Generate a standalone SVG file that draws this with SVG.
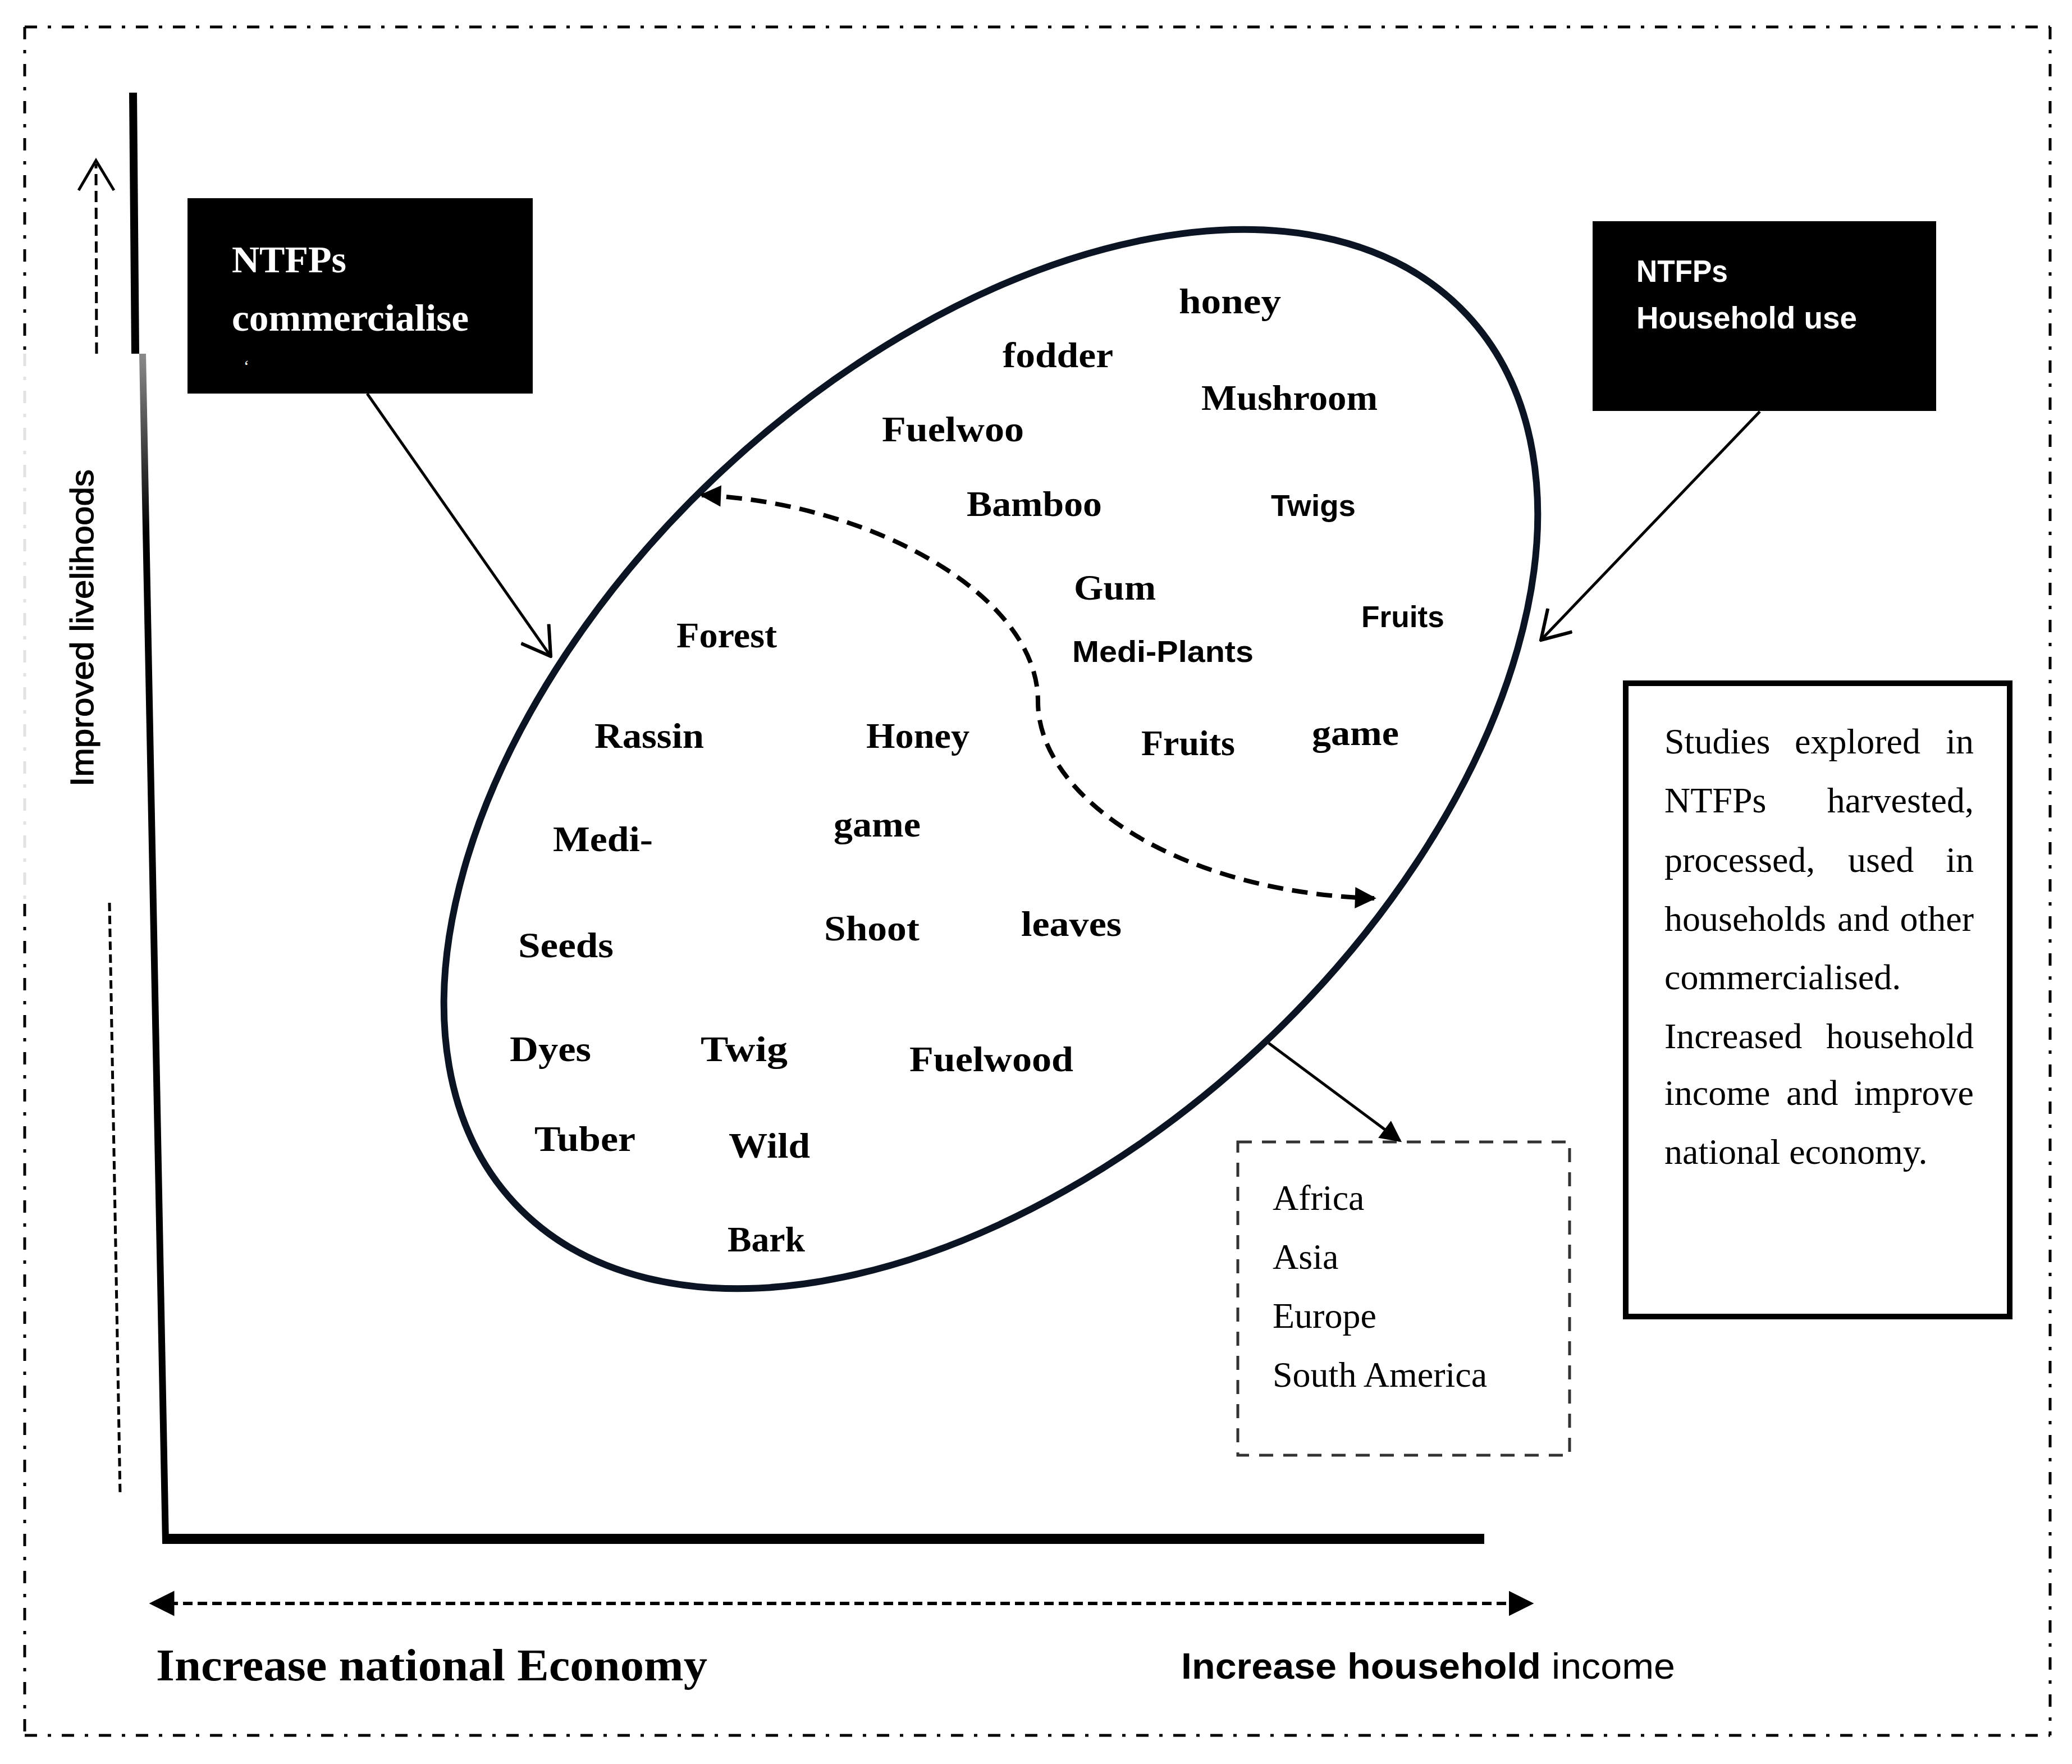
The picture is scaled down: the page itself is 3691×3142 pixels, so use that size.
<svg xmlns="http://www.w3.org/2000/svg" width="3691" height="3142" viewBox="0 0 3691 3142">
<style>
.border{stroke:#000;stroke-width:5;stroke-dasharray:22 19 6 19;fill:none}
.w{font-family:"Liberation Serif","Times New Roman",serif;font-weight:bold;font-size:64px;fill:#000}
.ws{font-family:"Liberation Sans",Arial,sans-serif;font-weight:bold;font-size:54px;fill:#000}
.body{font-family:"Liberation Serif","Times New Roman",serif;font-size:64px;fill:#000}
.boxw{font-family:"Liberation Serif","Times New Roman",serif;font-weight:bold;font-size:68px;fill:#fff}
.boxs{font-family:"Liberation Sans",Arial,sans-serif;font-weight:bold;font-size:55px;fill:#fff}
</style>
<defs>
<marker id="tri" viewBox="0 0 10 10" refX="9" refY="5" markerWidth="44" markerHeight="38" markerUnits="userSpaceOnUse" orient="auto-start-reverse"><path d="M0,0 L10,5 L0,10 z" fill="#000"/></marker>
<marker id="triAxis" viewBox="0 0 10 10" refX="9" refY="5" markerWidth="45" markerHeight="48" markerUnits="userSpaceOnUse" orient="auto-start-reverse"><path d="M0,0 L10,5 L0,10 z" fill="#000"/></marker>
<marker id="open" viewBox="0 0 54 64" refX="51" refY="32" markerWidth="54" markerHeight="64" markerUnits="userSpaceOnUse" orient="auto"><path d="M2,2 L51,32 L2,62" fill="none" stroke="#000" stroke-width="6"/></marker>
<linearGradient id="axisGrad" gradientUnits="userSpaceOnUse" x1="0" y1="630" x2="0" y2="2748">
<stop offset="0" stop-color="#8a8a8a"/><stop offset="0.15" stop-color="#000"/><stop offset="1" stop-color="#000"/>
</linearGradient>
</defs>
<rect width="3691" height="3142" fill="#fff"/>

<g id="frame">
<line class="border" x1="44" y1="48" x2="3652" y2="48"/>
<line class="border" x1="3652" y1="48" x2="3652" y2="3091"/>
<line class="border" x1="44" y1="3091" x2="3652" y2="3091"/>
<line class="border" x1="44" y1="48" x2="44" y2="630"/>
<line class="border" x1="44" y1="630" x2="44" y2="1610" style="stroke:#e2e2e2"/>
<line class="border" x1="44" y1="1610" x2="44" y2="3091"/>
</g>

<g id="axes">
<line x1="237" y1="165" x2="241" y2="630" stroke="#000" stroke-width="14"/>
<line x1="254" y1="630" x2="295" y2="2748" stroke="url(#axisGrad)" stroke-width="12"/>
<line x1="289" y1="2741" x2="2644" y2="2741" stroke="#000" stroke-width="18"/>
<line x1="172" y1="630" x2="171" y2="292" stroke="#000" stroke-width="5" stroke-dasharray="20 10"/>
<path d="M140,339 L171,286 L203,339" fill="none" stroke="#000" stroke-width="5"/>
<line x1="195" y1="1608" x2="214" y2="2662" stroke="#000" stroke-width="5" stroke-dasharray="15 8"/>
<line x1="300" y1="2856" x2="2698" y2="2856" stroke="#000" stroke-width="6" stroke-dasharray="17 9"/>
<line x1="270" y1="2856" x2="2728" y2="2856" stroke="none" stroke-width="6" marker-start="url(#triAxis)" marker-end="url(#triAxis)"/>
<text transform="translate(166,1401) rotate(-90)" font-family="'Liberation Sans',Arial,sans-serif" font-size="58" stroke="#000" stroke-width="1.2" textLength="565" lengthAdjust="spacingAndGlyphs">Improved livelihoods</text>
<text x="278" y="2993" font-family="'Liberation Serif','Times New Roman',serif" font-weight="bold" font-size="80" textLength="982" lengthAdjust="spacingAndGlyphs">Increase national Economy</text>
<text x="2104" y="2990" font-family="'Liberation Sans',Arial,sans-serif" font-size="64" textLength="880" lengthAdjust="spacingAndGlyphs"><tspan font-weight="bold">Increase household</tspan> income</text>
</g>

<g id="node-commercialise">
<rect x="334" y="353" width="615" height="348" fill="#000"/>
<text class="boxw" x="413" y="485">NTFPs</text>
<text class="boxw" x="413" y="589" textLength="422" lengthAdjust="spacingAndGlyphs">commercialise</text>
<text x="434" y="662" font-family="'Liberation Serif',serif" font-size="30" fill="#fff">‘</text>
</g>

<g id="node-household">
<rect x="2837" y="394" width="612" height="338" fill="#000"/>
<text class="boxs" x="2915" y="502" textLength="163" lengthAdjust="spacingAndGlyphs">NTFPs</text>
<text class="boxs" x="2915" y="585" textLength="393" lengthAdjust="spacingAndGlyphs">Household use</text>
</g>

<g id="node-ntfps">
<ellipse cx="1765" cy="1352" rx="1160" ry="702" transform="rotate(-43 1765 1352)" fill="none" stroke="#0b1422" stroke-width="12"/>
<text class="w" x="2100" y="558" textLength="182" lengthAdjust="spacingAndGlyphs">honey</text>
<text class="w" x="1786" y="654" textLength="197" lengthAdjust="spacingAndGlyphs">fodder</text>
<text class="w" x="2140" y="730" textLength="314" lengthAdjust="spacingAndGlyphs">Mushroom</text>
<text class="w" x="1571" y="786" textLength="253" lengthAdjust="spacingAndGlyphs">Fuelwoo</text>
<text class="w" x="1722" y="919" textLength="241" lengthAdjust="spacingAndGlyphs">Bamboo</text>
<text class="ws" x="2264" y="919" textLength="151" lengthAdjust="spacingAndGlyphs">Twigs</text>
<text class="w" x="1913" y="1068" textLength="146" lengthAdjust="spacingAndGlyphs">Gum</text>
<text class="ws" x="1910" y="1179" font-size="56" textLength="323" lengthAdjust="spacingAndGlyphs">Medi-Plants</text>
<text class="ws" x="2425" y="1117" textLength="148" lengthAdjust="spacingAndGlyphs">Fruits</text>
<text class="w" x="2033" y="1345" textLength="167" lengthAdjust="spacingAndGlyphs">Fruits</text>
<text class="w" x="2337" y="1327" textLength="155" lengthAdjust="spacingAndGlyphs">game</text>
<text class="w" x="1205" y="1153" textLength="179" lengthAdjust="spacingAndGlyphs">Forest</text>
<text class="w" x="1059" y="1332" textLength="195" lengthAdjust="spacingAndGlyphs">Rassin</text>
<text class="w" x="1543" y="1332" textLength="184" lengthAdjust="spacingAndGlyphs">Honey</text>
<text class="w" x="985" y="1516" textLength="178" lengthAdjust="spacingAndGlyphs">Medi-</text>
<text class="w" x="1485" y="1490" textLength="155" lengthAdjust="spacingAndGlyphs">game</text>
<text class="w" x="923" y="1705" textLength="170" lengthAdjust="spacingAndGlyphs">Seeds</text>
<text class="w" x="1468" y="1675" textLength="170" lengthAdjust="spacingAndGlyphs">Shoot</text>
<text class="w" x="1819" y="1667" textLength="179" lengthAdjust="spacingAndGlyphs">leaves</text>
<text class="w" x="908" y="1890" textLength="145" lengthAdjust="spacingAndGlyphs">Dyes</text>
<text class="w" x="1248" y="1890" textLength="155" lengthAdjust="spacingAndGlyphs">Twig</text>
<text class="w" x="1620" y="1908" textLength="292" lengthAdjust="spacingAndGlyphs">Fuelwood</text>
<text class="w" x="952" y="2050" textLength="180" lengthAdjust="spacingAndGlyphs">Tuber</text>
<text class="w" x="1298" y="2062" textLength="145" lengthAdjust="spacingAndGlyphs">Wild</text>
<text class="w" x="1296" y="2229" textLength="138" lengthAdjust="spacingAndGlyphs">Bark</text>
</g>

<g id="node-regions">
<rect x="2205" y="2034" width="591" height="558" fill="none" stroke="#333" stroke-width="5" stroke-dasharray="25 18"/>
<text class="body" x="2267" y="2155">Africa</text>
<text class="body" x="2267" y="2260">Asia</text>
<text class="body" x="2267" y="2365">Europe</text>
<text class="body" x="2267" y="2470">South America</text>
</g>

<g id="node-studies">
<rect x="2896" y="1217" width="684" height="1128" fill="none" stroke="#000" stroke-width="10"/>
<text class="body" y="1342"><tspan x="2965">Studies</tspan><tspan x="3197">explored</tspan><tspan x="3516" text-anchor="end">in</tspan></text>
<text class="body" y="1447"><tspan x="2965">NTFPs</tspan><tspan x="3516" text-anchor="end">harvested,</tspan></text>
<text class="body" y="1553"><tspan x="2965">processed,</tspan><tspan x="3292">used</tspan><tspan x="3516" text-anchor="end">in</tspan></text>
<text class="body" y="1658"><tspan x="2965">households</tspan><tspan x="3273">and</tspan><tspan x="3516" text-anchor="end">other</tspan></text>
<text class="body" x="2965" y="1762">commercialised.</text>
<text class="body" y="1867"><tspan x="2965">Increased</tspan><tspan x="3516" text-anchor="end">household</tspan></text>
<text class="body" y="1968"><tspan x="2965">income</tspan><tspan x="3182">and</tspan><tspan x="3516" text-anchor="end">improve</tspan></text>
<text class="body" x="2965" y="2073">national economy.</text>
</g>

<g id="connectors" fill="none" stroke="#000">
<line x1="654" y1="701" x2="981" y2="1169" stroke-width="5" marker-end="url(#open)"/>
<line x1="3135" y1="733" x2="2745" y2="1140" stroke-width="5" marker-end="url(#open)"/>
<path d="M1250,882 C1550,895 1850,1060 1849,1250 C1849,1420 2100,1590 2448,1600" stroke-width="8" stroke-dasharray="28 16" marker-start="url(#tri)" marker-end="url(#tri)"/>
<line x1="2260" y1="1858" x2="2494" y2="2032" stroke-width="5" marker-end="url(#tri)"/>
</g>
</svg>
